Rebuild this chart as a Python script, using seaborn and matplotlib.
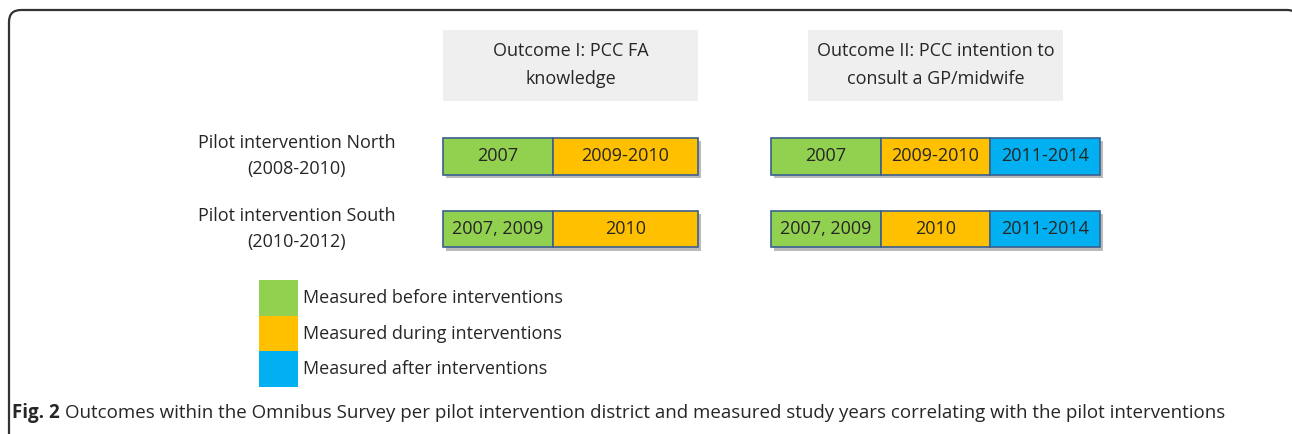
"""Outcomes within the Omnibus Survey per pilot district - schematic bar diagram."""
import matplotlib
matplotlib.use("Agg")
import matplotlib.pyplot as plt
import matplotlib.patheffects as pe
from matplotlib.patches import Rectangle, FancyBboxPatch
import seaborn as sns
import pandas as pd

sns.set_theme(style="white")
plt.rcParams["font.family"] = ["Open Sans", "DejaVu Sans"]

# --- data ---------------------------------------------------------------
outcomes = ["Outcome I: PCC FA\nknowledge",
            "Outcome II: PCC intention to\nconsult a GP/midwife"]
districts = ["Pilot intervention North\n(2008-2010)",
             "Pilot intervention South\n(2010-2012)"]
phases = ["before", "during", "after"]
phase_labels = ["Measured before interventions",
                "Measured during interventions",
                "Measured after interventions"]
# measured years per outcome -> district -> phase
years_o1 = [["2007", "2009-2010"], ["2007, 2009", "2010"]]
years_o2 = [["2007", "2009-2010", "2011-2014"],
            ["2007, 2009", "2010", "2011-2014"]]
caption_bold = "Fig. 2"
caption = ("Outcomes within the Omnibus Survey per pilot intervention district and "
           "measured study years correlating with the pilot interventions")

# --- style / layout -----------------------------------------------------
COLORS = {"before": "#92D050", "during": "#FFC000", "after": "#00B0F0"}
EDGE = "#3A5F8F"
TXT = "#262626"
FS = 13
W, H = 1292, 434
seg_w = {0: [1.0, 1.32], 1: [1.0, 1.0, 1.0]}   # relative segment widths
panel_px = {0: (443, 698), 1: (771, 1100)}      # bar x-extent in px
row_top, row_bot = 120.25, 265.25               # band holding the two rows

fig = plt.figure(figsize=(W / 100, H / 100), dpi=100)
ax0 = fig.add_axes([0, 0, 1, 1])
ax0.set_xlim(0, W); ax0.set_ylim(H, 0); ax0.axis("off")

# outer frame with rounded top corners (bottom runs off the page)
ax0.add_patch(FancyBboxPatch((9, 10), 1290, 480, boxstyle="round,pad=0,rounding_size=12",
                             fill=False, ec="#333333", lw=1.6, clip_on=True))

# header boxes
for (x0, x1), txt in zip([(443, 698), (808, 1063)], outcomes):
    ax0.add_patch(Rectangle((x0, 30), x1 - x0, 71, fc="#EFEFEF", ec="none"))
    ax0.text((x0 + x1) / 2, 65, txt, ha="center", va="center", fontsize=FS,
             color=TXT, linespacing=1.65)

# row labels
for i, lab in enumerate(districts):
    ax0.text(297, 156 + 73 * i, lab, ha="center", va="center", fontsize=FS,
             color=TXT, linespacing=1.6)

# stacked bars per outcome
shadow = [pe.SimplePatchShadow(offset=(2.2, -2.2), shadow_rgbFace="#8c8c8c", alpha=0.6),
          pe.Normal()]
for k, years in enumerate([years_o1, years_o2]):
    rows = []
    for d, dist_years in enumerate(years):
        left = 0.0
        for p, yr in enumerate(dist_years):
            rows.append(dict(district=d, phase=phases[p], years=yr,
                             left=left, width=seg_w[k][p]))
            left += seg_w[k][p]
    df = pd.DataFrame(rows)
    x0, x1 = panel_px[k]
    ax = fig.add_axes([x0 / W, 1 - row_bot / H, (x1 - x0) / W, (row_bot - row_top) / H])
    ax.set_xlim(0, sum(seg_w[k])); ax.set_ylim(1.5, -0.5); ax.axis("off")
    for _, r in df.iterrows():
        ax.barh(r["district"], r["width"], left=r["left"], height=0.51,
                color=COLORS[r["phase"]], edgecolor=EDGE, linewidth=1.2,
                path_effects=shadow, clip_on=False)
        ax.text(r["left"] + r["width"] / 2, r["district"], r["years"], ha="center",
                va="center", fontsize=FS, color=TXT)

# legend swatches
for i, (ph, lab) in enumerate(zip(phases, phase_labels)):
    y = 280 + 35.7 * i
    ax0.add_patch(Rectangle((259, y), 39, 35.7, fc=COLORS[ph], ec="none"))
    ax0.text(303, y + 18, lab, ha="left", va="center", fontsize=FS, color=TXT)

# caption: bold figure number followed by plain text
t = ax0.text(12, 413, caption_bold, ha="left", va="center", fontsize=13.5,
             fontweight="bold", color=TXT)
bb = t.get_window_extent(fig.canvas.get_renderer())
ax0.text(bb.x1 + 5, 413, caption, ha="left", va="center", fontsize=13.5, color=TXT)

fig.savefig("out.png", dpi=100)
